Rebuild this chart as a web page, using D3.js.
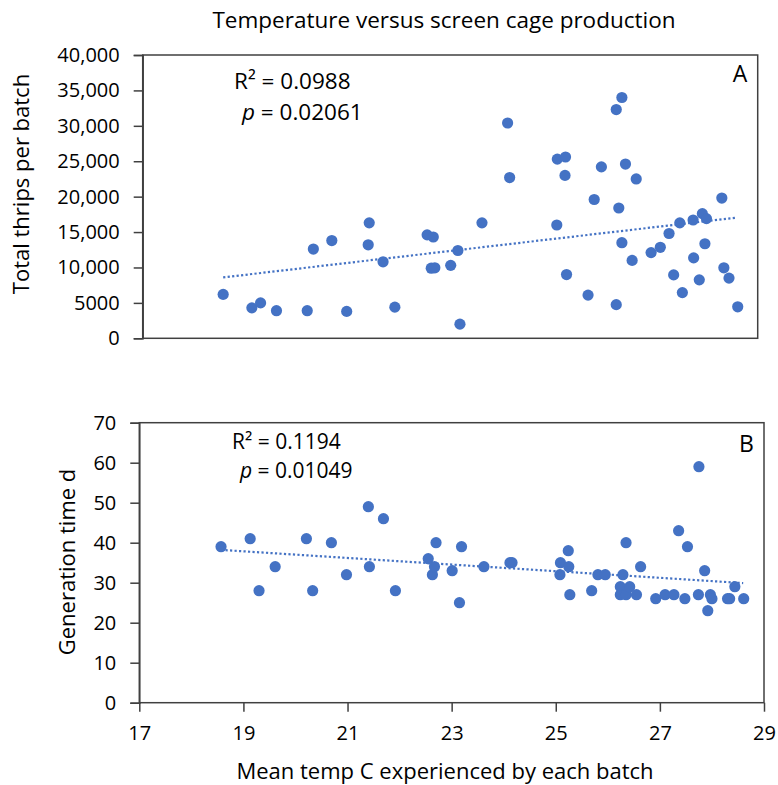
<!DOCTYPE html>
<html>
<head>
<meta charset="utf-8">
<script src="https://cdn.jsdelivr.net/npm/d3@7"></script>
<style>
  body { margin: 0; background: #fff; }
  svg text { font-family: "Open Sans", sans-serif; fill: #000; }
</style>
</head>
<body>
<div id="chart"></div>
<script>
let
    svgWidth = 778,
    svgHeight = 785

// mean temperature of each batch (shared by both panels)
let temps = [18.57, 19.13, 19.30, 19.61, 20.21, 20.33, 20.69, 20.98, 21.40, 21.42,
    21.69, 21.92, 22.55, 22.63, 22.67, 22.70, 23.01, 23.15, 23.19, 23.62,
    24.12, 24.16, 25.08, 25.09, 25.24, 25.25, 25.27, 25.69, 25.81, 25.95,
    26.24, 26.24, 26.29, 26.35, 26.35, 26.42, 26.55, 26.63, 26.92, 27.10,
    27.27, 27.36, 27.48, 27.53, 27.74, 27.75, 27.86, 27.92, 27.97, 28.00,
    28.30, 28.34, 28.44, 28.61]

// panel A: total thrips per batch
let thrips = [6200, 4300, 5000, 3900, 3900, 12600, 13800, 3800, 13200, 16300,
    10800, 4400, 14600, 9900, 14300, 9950, 10300, 12400, 2000, 16300,
    30400, 22700, 16000, 25300, 23000, 25600, 9000, 6100, 19600, 24200,
    4750, 32300, 18400, 34000, 13500, 24600, 11000, 22500, 12100, 12850,
    14800, 8950, 16300, 6450, 16700, 11350, 8250, 17600, 13350, 16900,
    19800, 9950, 8500, 4450]

// panel B: generation time (d)
let genTime = [39, 41, 28, 34, 41, 28, 40, 32, 49, 34,
    46, 28, 36, 32, 34, 40, 33, 25, 39, 34,
    35, 35, 32, 35, 38, 34, 27, 28, 32, 32,
    29, 27, 32, 40, 27, 29, 27, 34, 26, 27,
    27, 43, 26, 39, 27, 59, 33, 23, 27, 26,
    26, 26, 29, 26]

// linear trend lines, end points
let trendTemps = [18.57, 28.6]
let thripsTrend = [8600, 17050]
let genTrend = [38.2, 29.9]

let tempTicks = [17, 19, 21, 23, 25, 27, 29]
let thripsTicks = [0, 5000, 10000, 15000, 20000, 25000, 30000, 35000, 40000]
let genTicks = [0, 10, 20, 30, 40, 50, 60, 70]

let dotColor = "#4472C4"
let lineColor = "#404040"

let svg = d3.select("#chart")
    .append("svg")
    .attr("width", svgWidth)
    .attr("height", svgHeight)

svg.append("text")
    .attr("x", 444)
    .attr("y", 28)
    .attr("text-anchor", "middle")
    .attr("font-size", 22.5)
    .text("Temperature versus screen cage production")

function drawPanel(p) {
    let xScale = d3.scaleLinear().domain([17, 29]).range([p.left, p.right])
    let yScale = d3.scaleLinear().domain(p.yDomain).range([p.bottom, p.top])

    let g = svg.append("g")

    // plot frame
    g.append("rect")
        .attr("x", p.left)
        .attr("y", p.top)
        .attr("width", p.right - p.left)
        .attr("height", p.bottom - p.top)
        .attr("fill", "none")
        .attr("stroke", lineColor)
        .attr("stroke-width", 1.5)

    let leftAxis = d3.axisLeft(yScale)
        .tickValues(p.yTicks)
        .tickSize(9)
        .tickPadding(14)
        .tickFormat(p.yFormat)
    let yAxis = g.append("g")
        .attr("transform", `translate(${p.left}, 0)`)
        .call(leftAxis)
    yAxis.selectAll("text").attr("font-size", 20)

    if (p.showX) {
        let bottomAxis = d3.axisBottom(xScale)
            .tickValues(tempTicks)
            .tickSize(9)
            .tickPadding(14)
        let xAxis = g.append("g")
            .attr("transform", `translate(0, ${p.bottom})`)
            .call(bottomAxis)
        xAxis.selectAll("text").attr("font-size", 20)
        xAxis.select(".domain").remove()
    }
    g.selectAll(".domain, .tick line")
        .attr("stroke", lineColor)
        .attr("stroke-width", 1.5)
    g.selectAll(".tick text").attr("font-family", "Open Sans, sans-serif")

    // trend line
    g.append("path")
        .datum(trendTemps.map((t, i) => [t, p.trend[i]]))
        .attr("d", d3.line().x(d => xScale(d[0])).y(d => yScale(d[1])))
        .attr("fill", "none")
        .attr("stroke", dotColor)
        .attr("stroke-width", 2.2)
        .attr("stroke-dasharray", "2.2,2.3")

    // points
    g.selectAll("circle")
        .data(temps.map((t, i) => [t, p.values[i]]))
        .enter()
        .append("circle")
        .attr("cx", d => xScale(d[0]))
        .attr("cy", d => yScale(d[1]))
        .attr("r", 5.6)
        .attr("fill", dotColor)

    // statistics annotation, two lines in one text block
    let stat = g.append("text")
        .attr("x", p.statX)
        .attr("y", p.statY)
        .attr("font-size", p.statSize)
    stat.append("tspan").text(p.r2)
    let pLine = stat.append("tspan")
        .attr("x", p.statX + 8)
        .attr("dy", p.statGap)
    pLine.append("tspan").attr("font-style", "italic").text("p")
    pLine.append("tspan").text(" = " + p.pValue)

    g.append("text")
        .attr("x", p.right - 25)
        .attr("y", p.letterY)
        .attr("font-size", 23)
        .text(p.letter)

    // y axis title
    g.append("text")
        .attr("transform", `translate(${p.titleX}, ${p.titleY}) rotate(-90)`)
        .attr("text-anchor", "middle")
        .attr("font-size", 22)
        .text(p.yTitle)
}

drawPanel({
    left: 142.7, right: 757.7, top: 55, bottom: 338.3,
    yDomain: [0, 40000], yTicks: thripsTicks,
    yFormat: d => d >= 10000 ? d3.format(",")(d) : d,
    values: thrips, trend: thripsTrend, showX: false,
    statX: 234, statY: 89, statGap: 31, statSize: 22.5, letterY: 82,
    r2: "R² = 0.0988", pValue: "0.02061", letter: "A",
    yTitle: "Total thrips per batch", titleX: 29, titleY: 184
})

drawPanel({
    left: 139.3, right: 764, top: 422.7, bottom: 702.7,
    yDomain: [0, 70], yTicks: genTicks,
    yFormat: d => d,
    values: genTime, trend: genTrend, showX: true,
    statX: 232, statY: 449, statGap: 29, statSize: 21, letterY: 452,
    r2: "R² = 0.1194", pValue: "0.01049", letter: "B",
    yTitle: "Generation time d", titleX: 75, titleY: 562
})

svg.append("text")
    .attr("x", 445)
    .attr("y", 779)
    .attr("text-anchor", "middle")
    .attr("font-size", 22)
    .text("Mean temp C experienced by each batch")
</script>
</body>
</html>
